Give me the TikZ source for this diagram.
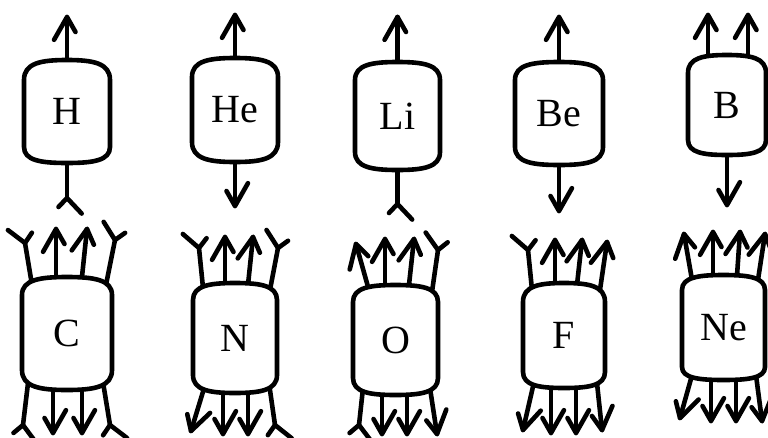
\documentclass[tikz,border=0pt]{standalone}
\usepackage{fontspec}
\newfontfamily\atomfont{Liberation Serif}
\usetikzlibrary{decorations.markings,calc}
\pgfdeclarelayer{back}
\pgfsetlayers{back,main}
\tikzset{
  boxline/.style={line width=4.6pt, fill=white, line join=round},
  atom/.style={draw=none, inner sep=0pt, font=\atomfont\fontsize{40}{42}\selectfont},
  headline/.style={line width=4.6pt, line cap=round, line join=round},
  arr/.style={headline, shorten <=-9pt, postaction={decorate},
    decoration={markings, mark=at position 1 with {\draw[headline] (-15pt,8.5pt) -- (0pt,0pt) -- (-15pt,-8.5pt);}}},
  fork/.style={headline, shorten <=-9pt, postaction={decorate},
    decoration={markings, mark=at position 1 with {\draw[headline] (9pt,8.5pt) -- (0pt,0pt) -- (9pt,-8.5pt);}}},
}
% #1 name, #2 label, #3 left, #4 right, #5 top, #6 shoulder top, #7 shoulder bottom, #8 bottom
\newcommand\mybarrel[8]{%
  \pgfmathsetmacro\bl{#3}\pgfmathsetmacro\br{#4}%
  \pgfmathsetmacro\bt{#5}\pgfmathsetmacro\bst{#6}%
  \pgfmathsetmacro\bsb{#7}\pgfmathsetmacro\bb{#8}%
  \pgfmathsetmacro\bcx{(\bl+\br)/2}\pgfmathsetmacro\bcy{(\bt+\bb)/2}%
  \pgfmathsetmacro\bw{\br-\bl}\pgfmathsetmacro\bh{\bb-\bt}%
  \pgfmathsetmacro\bqa{\bcx-0.3*\bw}\pgfmathsetmacro\bqb{\bcx+0.3*\bw}%
  \pgfmathsetmacro\bct{\bt+0.15*(\bst-\bt)}\pgfmathsetmacro\bcb{\bb-0.15*(\bb-\bsb)}%
  \draw[boxline] (\bl,\bst) .. controls (\bl,\bct) and (\bqa,\bt) .. (\bcx,\bt)
    .. controls (\bqb,\bt) and (\br,\bct) .. (\br,\bst) -- (\br,\bsb)
    .. controls (\br,\bcb) and (\bqb,\bb) .. (\bcx,\bb)
    .. controls (\bqa,\bb) and (\bl,\bcb) .. (\bl,\bsb) -- cycle;
  \node[atom, minimum width=\bw pt, minimum height=\bh pt] (#1) at (\bcx,\bcy) {#2};%
}
\begin{document}
\begin{tikzpicture}[x=1pt,y=-1pt]
\useasboundingbox (0,0) rectangle (768,437);
% top row
\mybarrel{H}{H}{24}{110}{60}{80}{147}{163}
\mybarrel{He}{He}{192}{278}{58}{77}{142}{162}
\mybarrel{Li}{Li}{355}{440}{62}{80}{152}{170}
\mybarrel{Be}{Be}{515}{603}{62}{80}{147}{165}
\mybarrel{B}{B}{688}{766}{55}{73}{140}{155}
% bottom row
\mybarrel{C}{C}{22}{112}{277}{295}{370}{390}
\mybarrel{N}{N}{193}{277}{283}{300}{375}{393}
\mybarrel{O}{O}{353}{438}{285}{302}{378}{395}
\mybarrel{F}{F}{523}{605}{283}{302}{372}{388}
\mybarrel{Ne}{Ne}{682}{765}{275}{290}{367}{380}
% free ends (arrow tips / fork vertices)
\coordinate (H-u) at (67,17);   \coordinate (H-d) at (67,198);
\coordinate (He-u) at (235,15); \coordinate (He-d) at (235,206);
\coordinate (Li-u) at (397.5,17); \coordinate (Li-d) at (397.5,204);
\coordinate (Be-u) at (559,17); \coordinate (Be-d) at (559,211);
\coordinate (B-u1) at (708,15); \coordinate (B-u2) at (748,15); \coordinate (B-d) at (727,205);
\coordinate (C-t1) at (25,243); \coordinate (C-t2) at (56,229); \coordinate (C-t3) at (87,229); \coordinate (C-t4) at (115,240);
\coordinate (C-b1) at (23,425); \coordinate (C-b2) at (53,433); \coordinate (C-b3) at (82,433); \coordinate (C-b4) at (110,425);
\coordinate (N-t1) at (199,248); \coordinate (N-t2) at (225,237); \coordinate (N-t3) at (253,237); \coordinate (N-t4) at (278,248);
\coordinate (N-b1) at (191,431); \coordinate (N-b2) at (223,434); \coordinate (N-b3) at (248,434); \coordinate (N-b4) at (275,425);
\coordinate (O-t1) at (356,244); \coordinate (O-t2) at (385,239); \coordinate (O-t3) at (414,239); \coordinate (O-t4) at (438,250);
\coordinate (O-b1) at (359,425); \coordinate (O-b2) at (382,434); \coordinate (O-b3) at (407,434); \coordinate (O-b4) at (437,434);
\coordinate (F-t1) at (528,250); \coordinate (F-t2) at (555,240); \coordinate (F-t3) at (582,240); \coordinate (F-t4) at (607,242);
\coordinate (F-b1) at (523,430); \coordinate (F-b2) at (551,433); \coordinate (F-b3) at (576,433); \coordinate (F-b4) at (602,430);
\coordinate (Ne-t1) at (684,234); \coordinate (Ne-t2) at (713,232); \coordinate (Ne-t3) at (740,232); \coordinate (Ne-t4) at (765,234);
\coordinate (Ne-b1) at (680,418); \coordinate (Ne-b2) at (711,421); \coordinate (Ne-b3) at (736,421); \coordinate (Ne-b4) at (762,421);
\begin{pgfonlayer}{back}
% top row connectors
\draw[arr] (H.north) -- (H-u);
\draw[fork] (H.south) -- (H-d);
\draw[arr] (He.north) -- (He-u);
\draw[arr] (He.south) -- (He-d);
\draw[arr] (Li.north) -- (Li-u);
\draw[fork] (Li.south) -- (Li-d);
\draw[arr] (Be.north) -- (Be-u);
\draw[arr] (Be.south) -- (Be-d);
\draw[arr] ([shift={(-19,3)}]B.north) -- (B-u1);
\draw[arr] ([shift={(21,3)}]B.north) -- (B-u2);
\draw[arr] (B.south) -- (B-d);
% C
\draw[fork] ([shift={(-35,8)}]C.north) -- (C-t1);
\draw[arr]  ([shift={(-11,0)}]C.north) -- (C-t2);
\draw[arr]  ([shift={(15,0)}]C.north) -- (C-t3);
\draw[fork] ([shift={(39,8)}]C.north) -- (C-t4);
\draw[fork] ([shift={(-39,-7)}]C.south) -- (C-b1);
\draw[arr]  ([shift={(-14,0)}]C.south) -- (C-b2);
\draw[arr]  ([shift={(15,0)}]C.south) -- (C-b3);
\draw[fork] ([shift={(36,-8)}]C.south) -- (C-b4);
% N
\draw[fork] ([shift={(-32,5)}]N.north) -- (N-t1);
\draw[arr]  ([shift={(-10,0)}]N.north) -- (N-t2);
\draw[arr]  ([shift={(13,2)}]N.north) -- (N-t3);
\draw[fork] ([shift={(35,7)}]N.north) -- (N-t4);
\draw[arr]  ([shift={(-30,-8)}]N.south) -- (N-b1);
\draw[arr]  ([shift={(-12,0)}]N.south) -- (N-b2);
\draw[arr]  ([shift={(13,0)}]N.south) -- (N-b3);
\draw[fork] ([shift={(34,-10)}]N.south) -- (N-b4);
% O
\draw[arr]  ([shift={(-27.5,2)}]O.north) -- (O-t1);
\draw[arr]  ([shift={(-10.5,0)}]O.north) -- (O-t2);
\draw[arr]  ([shift={(13.5,0)}]O.north) -- (O-t3);
\draw[fork] ([shift={(36.5,7)}]O.north) -- (O-t4);
\draw[fork] ([shift={(-32.5,-7)}]O.south) -- (O-b1);
\draw[arr]  ([shift={(-13.5,0)}]O.south) -- (O-b2);
\draw[arr]  ([shift={(11.5,0)}]O.south) -- (O-b3);
\draw[arr]  ([shift={(34.5,-7)}]O.south) -- (O-b4);
% F
\draw[fork] ([shift={(-32,7)}]F.north) -- (F-t1);
\draw[arr]  ([shift={(-9,0)}]F.north) -- (F-t2);
\draw[arr]  ([shift={(13,2)}]F.north) -- (F-t3);
\draw[arr]  ([shift={(36,7)}]F.north) -- (F-t4);
\draw[arr]  ([shift={(-30,-6)}]F.south) -- (F-b1);
\draw[arr]  ([shift={(-13,0)}]F.south) -- (F-b2);
\draw[arr]  ([shift={(12,0)}]F.south) -- (F-b3);
\draw[arr]  ([shift={(33,-5)}]F.south) -- (F-b4);
% Ne
\draw[arr]  ([shift={(-31.5,5)}]Ne.north) -- (Ne-t1);
\draw[arr]  ([shift={(-10.5,0)}]Ne.north) -- (Ne-t2);
\draw[arr]  ([shift={(13.5,1)}]Ne.north) -- (Ne-t3);
\draw[arr]  ([shift={(34.5,5)}]Ne.north) -- (Ne-t4);
\draw[arr]  ([shift={(-31.5,-5)}]Ne.south) -- (Ne-b1);
\draw[arr]  ([shift={(-12.5,0)}]Ne.south) -- (Ne-b2);
\draw[arr]  ([shift={(12.5,0)}]Ne.south) -- (Ne-b3);
\draw[arr]  ([shift={(32.5,-5)}]Ne.south) -- (Ne-b4);
\end{pgfonlayer}
\end{tikzpicture}
\end{document}
